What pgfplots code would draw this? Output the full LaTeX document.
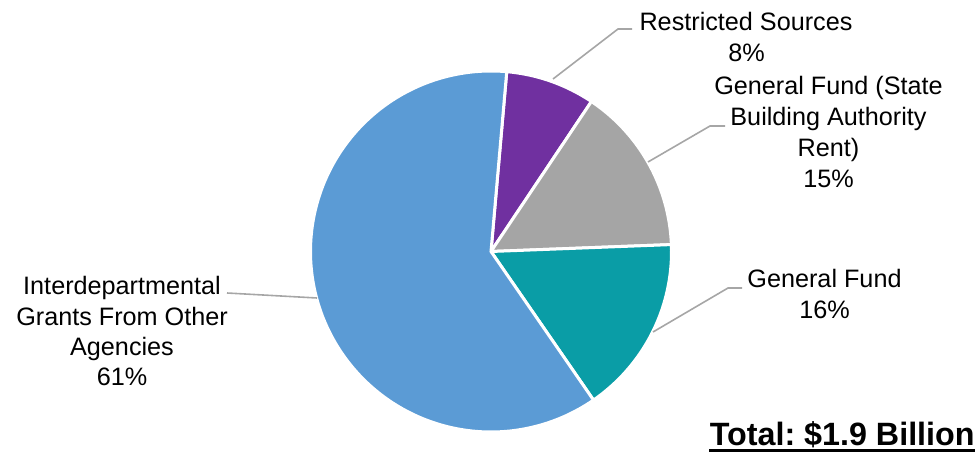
\documentclass[border=0pt]{standalone}
\usepackage{pgfplots}
\pgfplotsset{compat=1.18}
\usepackage{fontspec}
\setmainfont{Liberation Sans}
\frenchspacing
\definecolor{cBlue}{HTML}{5B9BD5}
\definecolor{cPurple}{HTML}{7030A0}
\definecolor{cGray}{HTML}{A5A5A5}
\definecolor{cTeal}{HTML}{0A9DA6}
\definecolor{cLead}{HTML}{A6A6A6}
% data (percent shares)
\def\pRS{8}   % Restricted Sources
\def\pSBA{15} % General Fund (State Building Authority Rent)
\def\pGF{16}  % General Fund
\def\pIG{61}  % Interdepartmental Grants
\pgfmathsetmacro\aA{85}
\pgfmathsetmacro\aB{\aA-3.6*\pRS}
\pgfmathsetmacro\aC{\aB-3.6*\pSBA}
\pgfmathsetmacro\aD{\aC-3.6*\pGF}
\pgfmathsetmacro\aE{\aD-3.6*\pIG}
\def\cx{491}\def\cy{206.5}\def\rr{180.5}
\newcommand\lbl[3]{\node[anchor=base,inner sep=0pt,font=\fontsize{12.65}{15}\selectfont] at (axis cs:#1,458-#2) {#3};}
\begin{document}
\begin{tikzpicture}
\begin{axis}[
  width=489.5bp, height=229bp, scale only axis,
  xmin=0, xmax=979, ymin=0, ymax=458,
  hide axis, clip=false,
]
\addplot[fill=cPurple, draw=white, line width=1.5bp, domain=\aB:\aA, samples=40, variable=\t]
  ({\cx+\rr*cos(\t)},{\cy+\rr*sin(\t)}) -- (axis cs:\cx,\cy) -- cycle;
\addplot[fill=cGray, draw=white, line width=1.5bp, domain=\aC:\aB, samples=60, variable=\t]
  ({\cx+\rr*cos(\t)},{\cy+\rr*sin(\t)}) -- (axis cs:\cx,\cy) -- cycle;
\addplot[fill=cTeal, draw=white, line width=1.5bp, domain=\aD:\aC, samples=60, variable=\t]
  ({\cx+\rr*cos(\t)},{\cy+\rr*sin(\t)}) -- (axis cs:\cx,\cy) -- cycle;
\addplot[fill=cBlue, draw=white, line width=1.5bp, domain=\aE:\aD, samples=200, variable=\t]
  ({\cx+\rr*cos(\t)},{\cy+\rr*sin(\t)}) -- (axis cs:\cx,\cy) -- cycle;
% leader lines
\addplot[cLead, line width=0.8bp] coordinates {(553,379) (618,429) (632,429)};
\addplot[cLead, line width=0.8bp] coordinates {(648,296) (710,332) (725,332)};
\addplot[cLead, line width=0.8bp] coordinates {(653,126) (728,170) (742,170)};
\addplot[cLead, line width=0.8bp] coordinates {(227,165) (317,160)};
% labels
\lbl{746}{31}{Restricted Sources}
\lbl{746.5}{62}{8\%}
\lbl{828.5}{95}{General Fund (State}
\lbl{828.5}{126}{Building Authority}
\lbl{828.5}{157}{Rent)}
\lbl{828.5}{188}{15\%}
\lbl{824.5}{288}{General Fund}
\lbl{824.5}{319}{16\%}
\lbl{122}{295}{Interdepartmental}
\lbl{122}{326}{Grants From Other}
\lbl{122}{356}{Agencies}
\lbl{122}{386}{61\%}
\node[anchor=base east, inner sep=0pt, font=\fontsize{16.2}{18}\selectfont\bfseries] (tot) at (axis cs:975,13) {Total: \$1.9 Billion};
\end{axis}
\draw[line width=1.5bp] ([yshift=-3bp]tot.base west) -- ([yshift=-3bp]tot.base east);
\pgfresetboundingbox
\path (current axis.south west) rectangle (current axis.north east);
\end{tikzpicture}
\end{document}
